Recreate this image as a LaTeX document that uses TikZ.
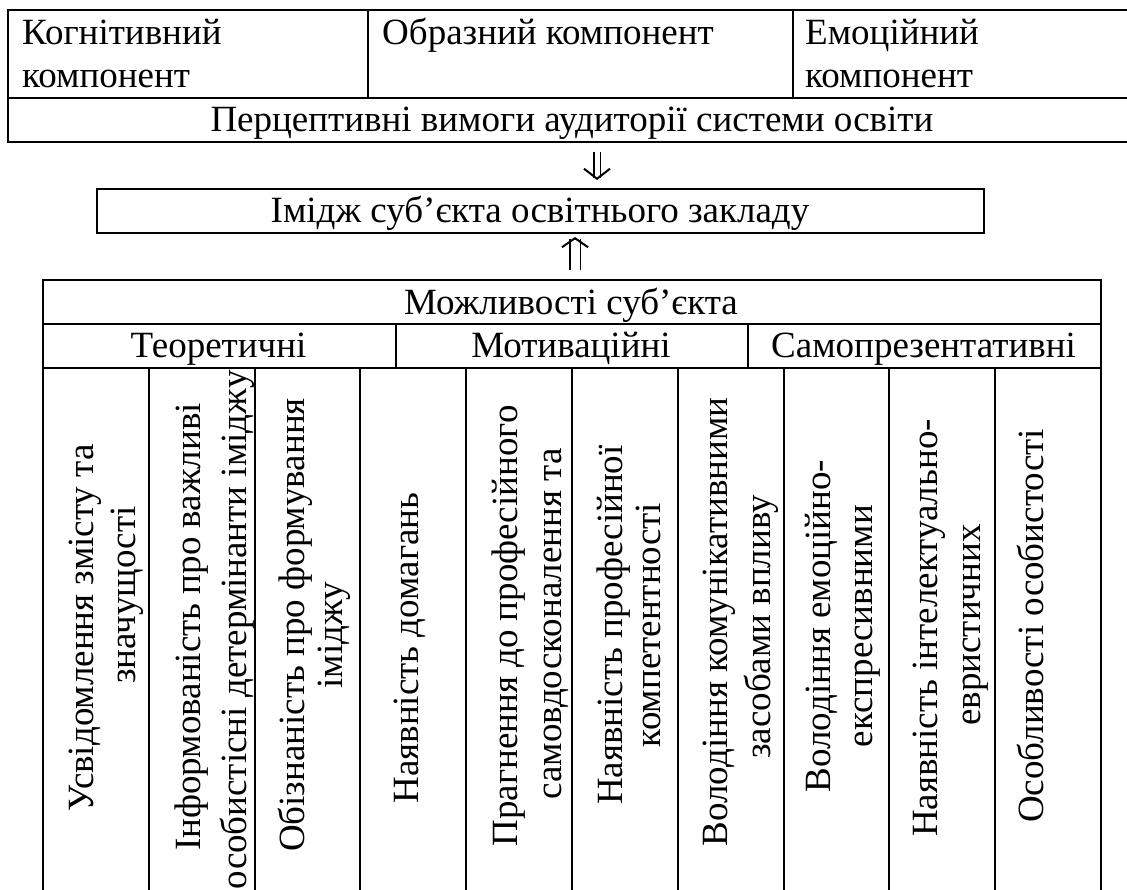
\documentclass[tikz,border=0pt]{standalone}
\usepackage{fontspec}
\setmainfont{Liberation Serif}
\usetikzlibrary{arrows.meta}
\begin{document}
\begin{tikzpicture}[x=1pt,y=-1pt,
  cell/.style={draw, line width=2pt, inner sep=0pt, anchor=north west},
  txt/.style={font=\fontsize{37}{43}\selectfont, inner sep=0pt},
  htxt/.style={txt, anchor=base},
  ltxt/.style={txt, anchor=base west},
  vtxt/.style={txt, rotate=90, anchor=base},
  dblarr/.style={double, line width=1.8pt},
]
\useasboundingbox (0,0) rectangle (1127,890);
\clip (0,0) rectangle (1127,890);

% top table
\node[cell, minimum width=360pt, minimum height=88pt] (k1) at (7,9) {};
\node[cell, minimum width=425pt, minimum height=88pt] (k2) at (367,9) {};
\node[cell, minimum width=360pt, minimum height=88pt] (k3) at (792,9) {};
\node[cell, minimum width=1145pt, minimum height=44pt] (perc) at (7,97) {};

\node[ltxt] (tk1a) at (22,45) {Когнітивний};
\node[ltxt] (tk1b) at (22,88) {компонент};
\node[ltxt] (tk2) at (382,45) {Образний компонент};
\node[ltxt] (tk3a) at (805,45) {Емоційний};
\node[ltxt] (tk3b) at (805,88) {компонент};
\node[htxt] (tperc) at (572,132) {Перцептивні вимоги аудиторії системи освіти};

% image box
\node[cell, minimum width=887pt, minimum height=44pt] (img) at (96,188) {};
\node[htxt] (timg) at (540,223) {Імідж суб’єкта освітнього закладу};

% bottom table
\node[cell, minimum width=1058pt, minimum height=44pt] (tab) at (42,279) {};
\node[htxt] (ttab) at (571,315) {Можливості суб’єкта};
\node[cell, minimum width=353pt, minimum height=44pt] (g1) at (42,323) {};
\node[cell, minimum width=352pt, minimum height=44pt] (g2) at (395,323) {};
\node[cell, minimum width=353pt, minimum height=44pt] (g3) at (747,323) {};
\node[htxt] (tg1) at (218.5,358) {Теоретичні};
\node[htxt] (tg2) at (571,358) {Мотиваційні};
\node[htxt] (tg3) at (923.5,358) {Самопрезентативні};

\foreach \i in {0,...,9}{
  \node[cell, minimum width=105.8pt, minimum height=540pt] (c\i) at ({42+\i*105.8},367) {};
}

% column texts
\node[vtxt] (v1a) at (93,628) {Усвідомлення змісту та};
\node[vtxt] (v1b) at (135,595) {значущості};
\node[vtxt] (v2a) at (200,627) {Інформованість про важливі};
\node[vtxt, anchor=base east] (v2b) at (246,370) {особистісні детермінанти іміджу};
\node[vtxt] (v3a) at (304,625) {Обізнаність про формування};
\node[vtxt] (v3b) at (342,635) {іміджу};
\node[vtxt] (v4a) at (418,648) {Наявність домагань};
\node[vtxt] (v5a) at (517,626) {Прагнення до професійного};
\node[vtxt] (v5b) at (561,624) {самовдосконалення та};
\node[vtxt] (v6a) at (622,625) {Наявність професійної};
\node[vtxt] (v6b) at (660,625) {компетентності};
\node[vtxt] (v7a) at (727,622) {Володіння комунікативними};
\node[vtxt] (v7b) at (770,627) {засобами впливу};
\node[vtxt] (v8a) at (830,626) {Володіння емоційно-};
\node[vtxt] (v8b) at (872,626) {експресивними};
\node[vtxt] (v9a) at (937,628) {Наявність інтелектуально-};
\node[vtxt] (v9b) at (980,625) {евристичних};
\node[vtxt] (v10a) at (1043,626) {Особливості особистості};

% arrows
\coordinate (ax1) at (597,0);
\coordinate (ax2) at (575,0);
\draw[dblarr, double distance=5pt, shorten <=9pt, shorten >=8pt,
  -{Straight Barb[length=10pt,width=26pt,line width=2pt]}] (perc.south -| ax1) -- (img.north -| ax1);
\draw[dblarr, double distance=9pt, shorten <=9pt, shorten >=3pt,
  -{Straight Barb[length=9pt,width=26pt,line width=2pt]}] (tab.north -| ax2) -- (img.south -| ax2);
\end{tikzpicture}
\end{document}
